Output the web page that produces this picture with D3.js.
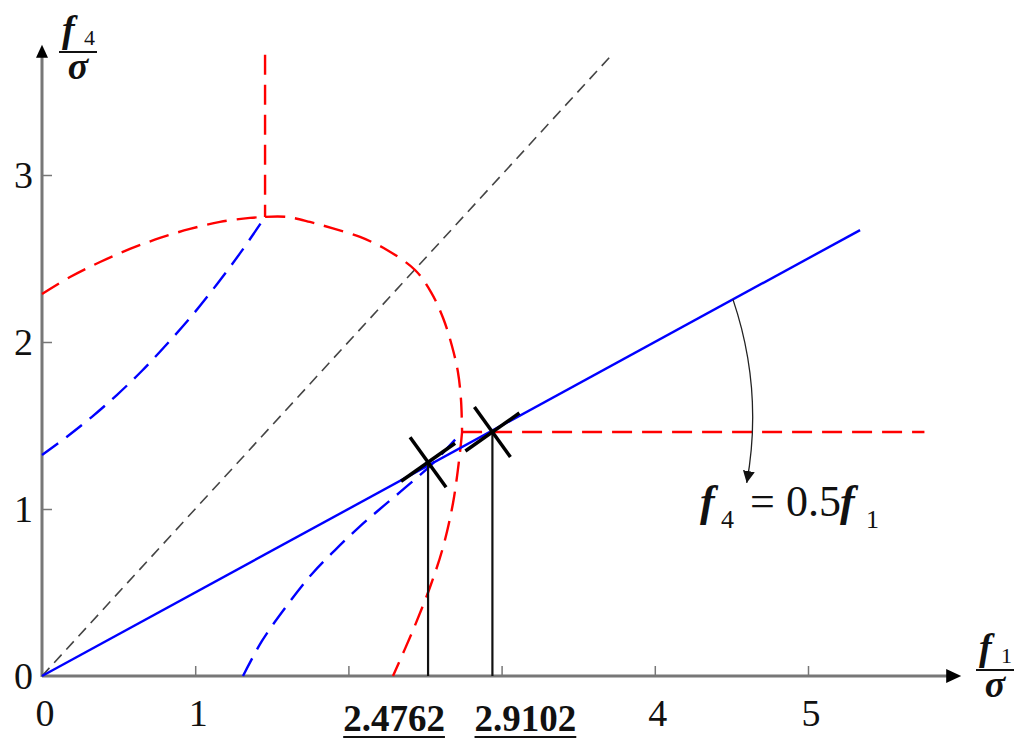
<!DOCTYPE html>
<html lang="en">
<head>
<meta charset="utf-8">
<script src="https://cdn.jsdelivr.net/npm/d3@7"></script>
<style>
	@font-face{font-family:'ChartSerif';src:local('Liberation Serif'),local('LiberationSerif'),local('Tinos'),local('FreeSerif');font-weight:normal;font-style:normal;}
	@font-face{font-family:'ChartSerif';src:local('Liberation Serif Bold'),local('LiberationSerif-Bold'),local('Tinos Bold'),local('FreeSerifBold');font-weight:bold;font-style:normal;}
	@font-face{font-family:'ChartSerif';src:local('Liberation Serif Italic'),local('LiberationSerif-Italic'),local('Tinos Italic'),local('FreeSerifItalic');font-weight:normal;font-style:italic;}
	@font-face{font-family:'ChartSerif';src:local('Liberation Serif Bold Italic'),local('LiberationSerif-BoldItalic'),local('Tinos Bold Italic'),local('FreeSerifBoldItalic');font-weight:bold;font-style:italic;}
</style>
</head>
<body style="margin:0;background:#fff">
<svg id="chart" width="1024" height="747" style="display:block" font-family="Liberation Serif"></svg>
<script>
// ticks
const xTicks = [0,1,2,3,4,5];
const xTickLabels = ['0','1','','','4','5'];
const yTicks = [0,1,2,3];
const yTickLabels = ['0','1','2','3'];

// curves, in f1/sigma , f4/sigma units
const redLeft = [[0,2.287],[0.183,2.389],[0.379,2.479],[0.574,2.557],[0.77,2.623],[0.966,2.677],[1.162,2.719],[1.358,2.743],[1.456,2.749]];
const redRight = [[1.456,2.749],[1.599,2.749],[1.749,2.719],[1.899,2.68],[2.076,2.629],[2.252,2.551],[2.435,2.431],[2.539,2.299],[2.618,2.144],[2.676,1.976],[2.715,1.82],[2.735,1.653],[2.742,1.461]];
const redLow = [[2.742,1.461],[2.728,1.335],[2.683,1.036],[2.618,0.772],[2.533,0.533],[2.422,0.275],[2.291,0]];
const redVertical = [[1.456,3.72],[1.456,2.749]];
const redHorizontal = [[2.742,1.461],[5.76,1.461]];
const blueUpper = [[0,1.323],[0.163,1.433],[0.326,1.552],[0.49,1.684],[0.653,1.828],[0.816,1.988],[0.979,2.158],[1.142,2.346],[1.305,2.547],[1.456,2.749]];
const blueLower = [[1.312,0],[1.436,0.21],[1.606,0.431],[1.762,0.611],[1.913,0.754],[2.063,0.886],[2.206,1.0],[2.369,1.126],[2.546,1.269],[2.742,1.461]];
const blueLine = [[0,0],[5.34,2.67]];
const diagonal = [[0,0],[3.72,3.72]];

// marked points
const markF1 = [2.52,2.94];
const markF4 = [1.28,1.461];
const markLabels = ['2.4762','2.9102'];

// annotation arrow (start, control, tip)
const arrowPts = [[4.51,2.255],[4.71,1.713],[4.60,1.156]];

const fontStack = "'Liberation Serif', ChartSerif, Tinos, FreeSerif, 'Times New Roman'";
const svg = d3.select('#chart');
const x = d3.scaleLinear().domain([0,5]).range([42,808]);
const y = d3.scaleLinear().domain([0,3]).range([676,175]);
const xEnd = 6.0, yEnd = 3.78;

// text helper, font set on every text
function txt(parent,tx,ty,s,size,opts){
	opts = opts||{};
	const t = parent.append('text')
		.attr('x',tx).attr('y',ty)
		.attr('text-anchor',opts.anchor||'start')
		.attr('font-family','Liberation Serif')
		.attr('font-size',size)
		.attr('fill','#111')
		.text(s);
	t.style('font-family',fontStack);
	if(opts.italic) t.attr('font-style','italic');
	if(opts.bold) t.attr('font-weight','bold');
	return t;
}

const defs = svg.append('defs');
defs.append('marker')
	.attr('id','ah')
	.attr('viewBox','0 -6 12 12')
	.attr('refX',12).attr('refY',0)
	.attr('markerWidth',12).attr('markerHeight',12)
	.attr('markerUnits','userSpaceOnUse')
	.attr('orient','auto')
	.append('path').attr('d','M0,-6L12,0L0,6Z').attr('fill','#111');

const line = d3.line().x(d=>x(d[0])).y(d=>y(d[1]));
const smooth = d3.line().x(d=>x(d[0])).y(d=>y(d[1])).curve(d3.curveCatmullRom);

// axes
const axisColor = '#777';
svg.append('line')
	.attr('x1',x(0)).attr('x2',x(xEnd)-14)
	.attr('y1',y(0)).attr('y2',y(0))
	.attr('stroke',axisColor).attr('stroke-width',3);
svg.append('path')
	.attr('d',`M${x(xEnd)},${y(0)}L${x(xEnd)-15},${y(0)-7}L${x(xEnd)-15},${y(0)+7}Z`)
	.attr('fill','#000');
svg.append('line')
	.attr('x1',x(0)).attr('x2',x(0))
	.attr('y1',y(0)+1).attr('y2',y(yEnd)+12)
	.attr('stroke',axisColor).attr('stroke-width',3);
svg.append('path')
	.attr('d',`M${x(0)},${y(yEnd)}L${x(0)-6},${y(yEnd)+13}L${x(0)+6},${y(yEnd)+13}Z`)
	.attr('fill','#000');

// ticks through d3 axes, labels drawn with the same helper
const xAxis = svg.append('g')
	.attr('transform',`translate(0,${y(0)})`)
	.call(d3.axisBottom(x).tickValues(xTicks).tickSizeInner(-10).tickSizeOuter(0).tickFormat(''));
xAxis.select('.domain').remove();
xAxis.selectAll('.tick text').remove();
xAxis.selectAll('.tick line').attr('stroke',axisColor).attr('stroke-width',1.5)
	.attr('display',d=>d===0?'none':null);
xTicks.forEach((v,i)=>{
	if(xTickLabels[i]) txt(svg,x(v)+3,726,xTickLabels[i],38,{anchor:'middle'});
});

const yAxis = svg.append('g')
	.attr('transform',`translate(${x(0)},0)`)
	.call(d3.axisLeft(y).tickValues(yTicks).tickSizeInner(-10).tickSizeOuter(0).tickFormat(''));
yAxis.select('.domain').remove();
yAxis.selectAll('.tick text').remove();
yAxis.selectAll('.tick line').attr('stroke',axisColor).attr('stroke-width',1.5)
	.attr('display',d=>d===0?'none':null);
yTicks.forEach((v,i)=>{
	txt(svg,33,y(v)+13,yTickLabels[i],38,{anchor:'end'});
});

// curves
svg.append('path').attr('d',line(diagonal))
	.attr('fill','none').attr('stroke','#444').attr('stroke-width',1.6)
	.attr('stroke-dasharray','11,7');
[redVertical,redHorizontal].forEach(seg=>{
	svg.append('path').attr('d',line(seg))
		.attr('fill','none').attr('stroke','#f00').attr('stroke-width',2.4)
		.attr('stroke-dasharray','20,10');
});
[redLeft,redRight,redLow].forEach(seg=>{
	svg.append('path').attr('d',smooth(seg))
		.attr('fill','none').attr('stroke','#f00').attr('stroke-width',2.4)
		.attr('stroke-dasharray','20,10');
});
[blueUpper,blueLower].forEach(seg=>{
	svg.append('path').attr('d',smooth(seg))
		.attr('fill','none').attr('stroke','#00f').attr('stroke-width',2.4)
		.attr('stroke-dasharray','20,10');
});
svg.append('path').attr('d',line(blueLine))
	.attr('fill','none').attr('stroke','#00f').attr('stroke-width',2.4);

// marked points: drop line, X cross, underlined label
const labelShift = [-34,33];
markF1.forEach((f1,i)=>{
	const cx = x(f1), cy = y(markF4[i]);
	svg.append('line')
		.attr('x1',cx).attr('x2',cx).attr('y1',cy).attr('y2',y(0))
		.attr('stroke','#111').attr('stroke-width',2.2);
	svg.append('line')
		.attr('x1',cx-27).attr('y1',cy+19).attr('x2',cx+27).attr('y2',cy-19)
		.attr('stroke','#000').attr('stroke-width',3.5);
	svg.append('line')
		.attr('x1',cx-18).attr('y1',cy-25).attr('x2',cx+18).attr('y2',cy+25)
		.attr('stroke','#000').attr('stroke-width',3.5);
	const t = txt(svg,cx+labelShift[i],731,markLabels[i],37,{bold:true,anchor:'middle'});
	const bb = t.node().getBBox();
	svg.append('line')
		.attr('x1',bb.x).attr('x2',bb.x+bb.width)
		.attr('y1',737).attr('y2',737)
		.attr('stroke','#111').attr('stroke-width',2);
});

// annotation arrow + equation
const [a0,a1,a2] = arrowPts;
svg.append('path')
	.attr('d',`M${x(a0[0])},${y(a0[1])}Q${x(a1[0])},${y(a1[1])} ${x(a2[0])},${y(a2[1])}`)
	.attr('fill','none').attr('stroke','#222').attr('stroke-width',1.3)
	.attr('marker-end','url(#ah)');

const eq = svg.append('g').attr('transform','translate(700,516)');
txt(eq,0,0,'f',44,{italic:true,bold:true});
txt(eq,21,12,'4',26);
txt(eq,50,0,'=',44);
txt(eq,86,0,'0.5',44);
txt(eq,140,0,'f',44,{italic:true,bold:true});
txt(eq,166,12,'1',26);

// axis titles as fractions
function fraction(cx,top,sub){
	const g = svg.append('g');
	txt(g,cx-16,top+30,'f',38,{italic:true,bold:true});
	txt(g,cx+6,top+33,sub,22);
	g.append('line').attr('x1',cx-19).attr('x2',cx+19).attr('y1',top+40).attr('y2',top+40)
		.attr('stroke','#111').attr('stroke-width',2);
	txt(g,cx,top+67,'σ',38,{italic:true,bold:true,anchor:'middle'});
}
fraction(78,12,'4');
fraction(995,630,'1');
</script>
</body>
</html>
